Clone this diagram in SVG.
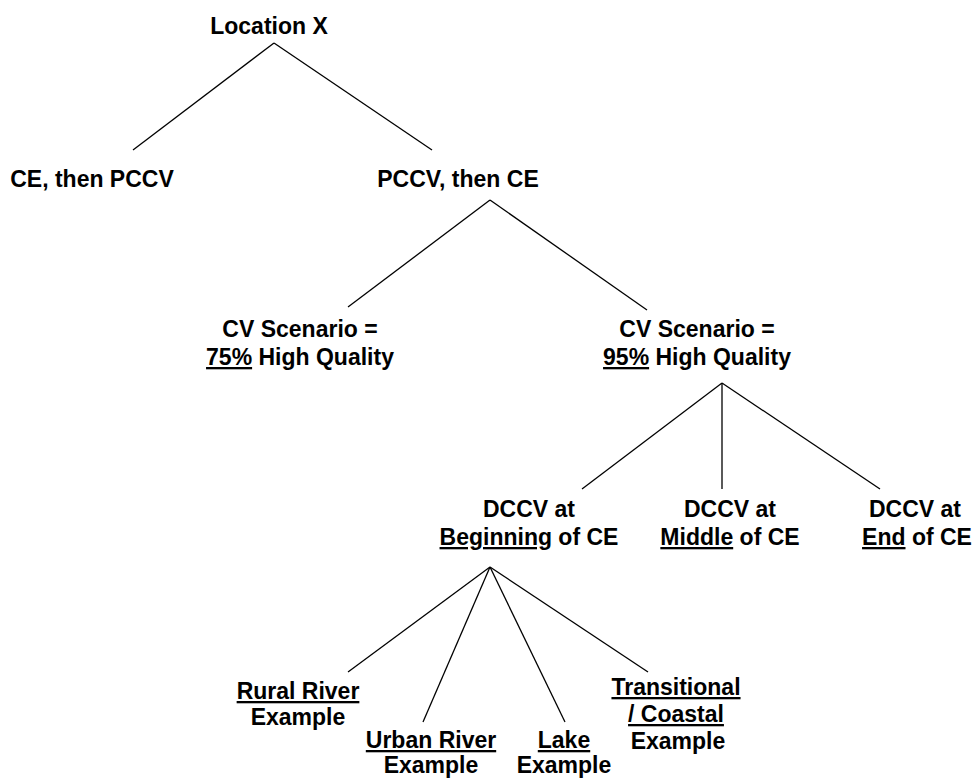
<svg xmlns="http://www.w3.org/2000/svg" width="973" height="779" viewBox="0 0 973 779">
<style>
text{font-family:"Liberation Sans",Arial,sans-serif;font-weight:bold;font-size:23px;fill:#000;text-anchor:middle}
.u{text-decoration:underline;text-decoration-thickness:2px}
#connectors line{stroke:#000;stroke-width:1.3}
</style>
<rect width="973" height="779" fill="#fff"/>
<g id="connectors">
<line x1="274" y1="43" x2="133" y2="150"/>
<line x1="274" y1="43" x2="432" y2="150"/>
<line x1="490" y1="200" x2="348" y2="307"/>
<line x1="490" y1="200" x2="647" y2="310"/>
<line x1="722" y1="383" x2="582" y2="489"/>
<line x1="722" y1="383" x2="722" y2="489"/>
<line x1="722" y1="383" x2="880" y2="489"/>
<line x1="490" y1="567" x2="348" y2="672"/>
<line x1="490" y1="567" x2="423" y2="722"/>
<line x1="490" y1="567" x2="565" y2="722"/>
<line x1="490" y1="567" x2="648" y2="672"/>
</g>
<g id="location-x"><text x="269" y="34">Location X</text></g>
<g id="ce-then-pccv"><text x="92" y="187">CE, then PCCV</text></g>
<g id="pccv-then-ce"><text x="458" y="187">PCCV, then CE</text></g>
<g id="cv-75"><text x="300" y="337">CV Scenario =</text><text x="300" y="365"><tspan class="u">75%</tspan> High Quality</text></g>
<g id="cv-95"><text x="697" y="337">CV Scenario =</text><text x="697" y="365"><tspan class="u">95%</tspan> High Quality</text></g>
<g id="dccv-beginning"><text x="529" y="517">DCCV at</text><text x="529" y="545"><tspan class="u">Beginning</tspan> of CE</text></g>
<g id="dccv-middle"><text x="730" y="517">DCCV at</text><text x="730" y="545"><tspan class="u">Middle</tspan> of CE</text></g>
<g id="dccv-end"><text x="915" y="517">DCCV at</text><text x="917" y="545"><tspan class="u">End</tspan> of CE</text></g>
<g id="rural-river"><text x="298" y="699" class="u">Rural River</text><text x="298" y="725">Example</text></g>
<g id="urban-river"><text x="431" y="748" class="u">Urban River</text><text x="431" y="773">Example</text></g>
<g id="lake"><text x="564" y="748" class="u">Lake</text><text x="564" y="773">Example</text></g>
<g id="transitional-coastal"><text x="676" y="695" class="u">Transitional</text><text x="676" y="722" class="u">/ Coastal</text><text x="678" y="749">Example</text></g>
</svg>
